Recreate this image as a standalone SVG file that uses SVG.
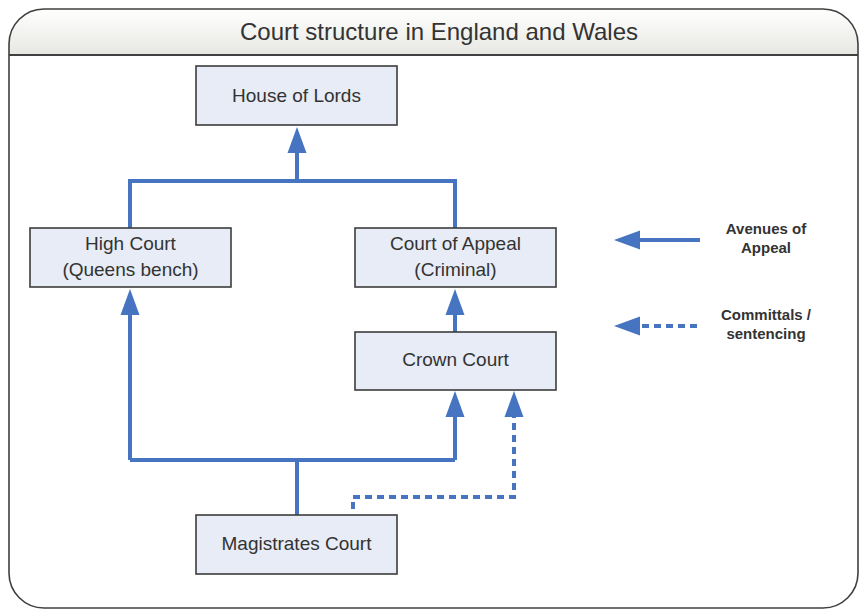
<svg xmlns="http://www.w3.org/2000/svg" width="859" height="610" viewBox="0 0 859 610">
<style>
.node rect{fill:#e7ecf6;stroke:#3d3d3d;stroke-width:1.6}
.node text{font-family:"Liberation Sans",Arial,sans-serif;font-size:19px;fill:#333;text-anchor:middle}
.legend text{font-family:"Liberation Sans",Arial,sans-serif;font-size:15px;font-weight:bold;fill:#333;text-anchor:middle}
.c{fill:none;stroke:#4674c1;stroke-width:4}
.d{fill:none;stroke:#4674c1;stroke-width:4;stroke-dasharray:7 5}
</style>
<defs>
<linearGradient id="tg" x1="0" y1="0" x2="0" y2="1">
<stop offset="0" stop-color="#ffffff"/>
<stop offset="1" stop-color="#e7e7e2"/>
</linearGradient>
<marker id="ah" markerUnits="userSpaceOnUse" markerWidth="28" markerHeight="22" viewBox="0 -11 28 22" refX="0" refY="0" orient="auto">
<path d="M0,-9.5 L26,0 L0,9.5 Z" fill="#4674c1"/>
</marker>
</defs>
<rect width="859" height="610" fill="#ffffff"/>
<g id="frame">
<path d="M9,55 V44 A35,35 0 0 1 44,9 H823 A35,35 0 0 1 858,44 V55 Z" fill="url(#tg)"/>
<path d="M44,9 H823 A35,35 0 0 1 858,44 V573 A35,35 0 0 1 823,608 H44 A35,35 0 0 1 9,573 V44 A35,35 0 0 1 44,9 Z" fill="none" stroke="#404040" stroke-width="1.6"/>
<line x1="9" y1="55" x2="858" y2="55" stroke="#404040" stroke-width="2"/>
<text x="439" y="40" font-family="'Liberation Sans',Arial,sans-serif" font-size="24" fill="#333" text-anchor="middle">Court structure in England and Wales</text>
</g>
<g id="connectors">
<path class="c" d="M130,228 V181 H455 V228"/>
<path class="c" d="M297,181 V153" marker-end="url(#ah)"/>
<path class="c" d="M455,332 V315" marker-end="url(#ah)"/>
<path class="c" d="M297,515 V460"/>
<path class="c" d="M130,460 H455"/>
<path class="c" d="M130,460 V315" marker-end="url(#ah)"/>
<path class="c" d="M455,460 V417" marker-end="url(#ah)"/>
<path class="d" d="M353,509 V497 H514 V417" marker-end="url(#ah)"/>
</g>
<g id="house-of-lords" class="node">
<rect x="196" y="66" width="201" height="59"/>
<text x="296.5" y="102">House of Lords</text>
</g>
<g id="high-court" class="node">
<rect x="30" y="228" width="201" height="59"/>
<text x="130.5" y="250">High Court</text>
<text x="130.5" y="276">(Queens bench)</text>
</g>
<g id="court-of-appeal" class="node">
<rect x="355" y="228" width="201" height="59"/>
<text x="455.5" y="250">Court of Appeal</text>
<text x="455.5" y="276">(Criminal)</text>
</g>
<g id="crown-court" class="node">
<rect x="355" y="332" width="201" height="58"/>
<text x="455.5" y="366">Crown Court</text>
</g>
<g id="magistrates-court" class="node">
<rect x="196" y="515" width="201" height="59"/>
<text x="296.5" y="550">Magistrates Court</text>
</g>
<g id="legend-appeal" class="legend">
<path class="c" d="M700,240 H640" marker-end="url(#ah)"/>
<text x="766" y="234">Avenues of</text>
<text x="766" y="253">Appeal</text>
</g>
<g id="legend-committal" class="legend">
<path class="d" d="M697,326 H640" marker-end="url(#ah)"/>
<text x="766" y="320">Committals /</text>
<text x="766" y="339">sentencing</text>
</g>
</svg>
